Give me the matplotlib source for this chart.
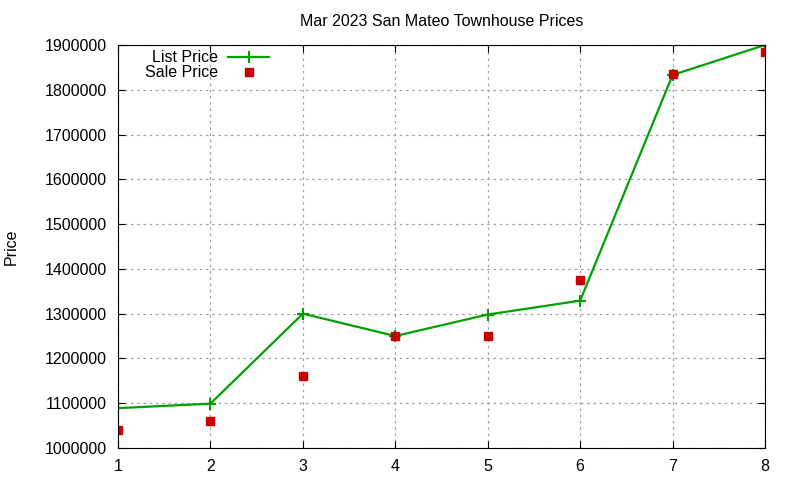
import matplotlib
matplotlib.use("Agg")
import matplotlib.pyplot as plt

plt.rcParams['font.family'] = ['Liberation Sans', 'DejaVu Sans']

# listing number and prices
houses = [1, 2, 3, 4, 5, 6, 7, 8]
list_price = [1089000, 1099000, 1300000, 1250000, 1298000, 1329000, 1833000, 1900000]
sale_price = [1040000, 1060000, 1160000, 1250000, 1250000, 1375000, 1835000, 1885000]
yticks = [1000000, 1100000, 1200000, 1300000, 1400000, 1500000,
          1600000, 1700000, 1800000, 1900000]

fig = plt.figure(figsize=(8, 4.8), dpi=100)
ax = fig.add_axes([0.1475, 0.0667, 0.8088, 0.8396])

ax.plot(houses, list_price, color='#00a000', lw=1.6, marker='+', ms=9,
        mew=1.5, label='List Price')
ax.plot(houses, sale_price, ls='none', color='#cc0000', marker='s', ms=6,
        label='Sale Price')

ax.set_xlim(1, 8)
ax.set_ylim(1000000, 1900000)
ax.set_yticks(yticks)
ax.set_yticklabels([str(v) for v in yticks])
ax.set_xticks(houses)
ax.tick_params(direction='in', top=True, right=True, labelsize=11.5, length=5)
ax.tick_params(axis='y', pad=8)
ax.tick_params(axis='x', pad=8)
ax.grid(True, color='#a0a0a0', ls=(0, (2, 3)), lw=0.9)

ax.set_title('Mar 2023 San Mateo Townhouse Prices', fontsize=11.5, pad=14)
ax.set_ylabel('Price', fontsize=11.5)
ax.yaxis.set_label_coords(-0.153, 0.5)

ax.legend(loc='upper left', markerfirst=False, frameon=False, fontsize=11.5,
          handlelength=2.6, borderaxespad=0.0, labelspacing=0.0,
          handletextpad=0.6, bbox_to_anchor=(0.032, 1.003))

fig.savefig('out.png', dpi=100)
